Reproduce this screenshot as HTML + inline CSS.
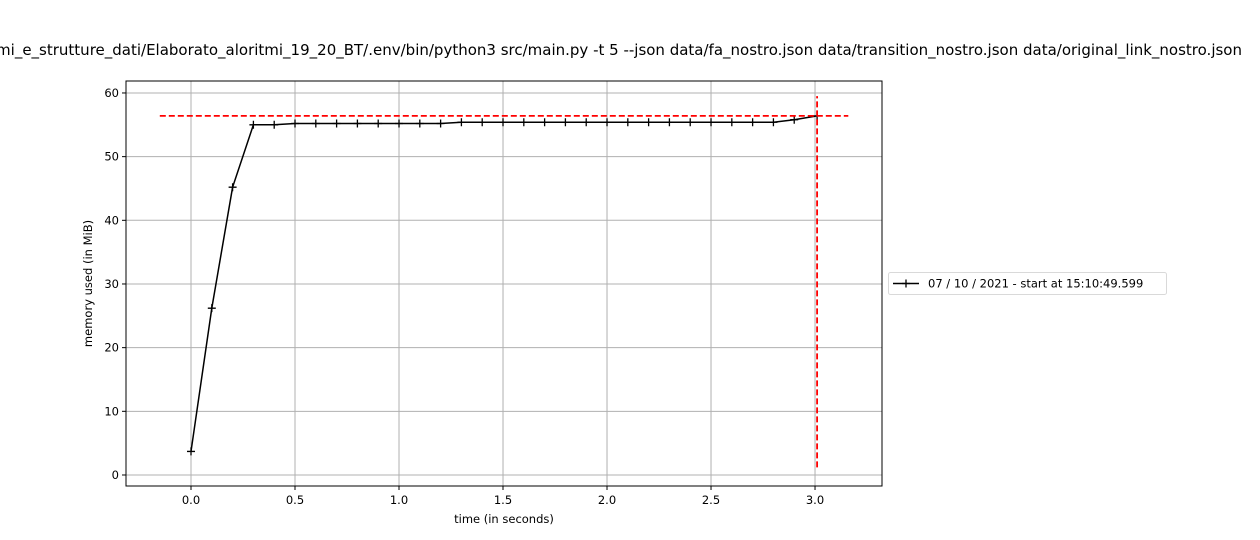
<!DOCTYPE html>
<html><head><meta charset="utf-8"><style>
html,body{margin:0;padding:0;background:#fff;}
svg{display:block;font-family:"DejaVu Sans","Liberation Sans",sans-serif;}
</style></head><body>
<svg id="chart" width="1260" height="540">
<text x="1242" y="55" text-anchor="end" font-size="15" fill="#000">/home/user/Documenti/algoritmi_e_strutture_dati/Elaborato_aloritmi_19_20_BT/.env/bin/python3 src/main.py -t 5 --json data/fa_nostro.json data/transition_nostro.json data/original_link_nostro.json</text>
<g id="grid"></g>
<g id="marks"></g>
<g id="axes"></g>
</svg>
<script>
const times = [0.0,0.1,0.2,0.3,0.4,0.5,0.6,0.7,0.8,0.9,1.0,1.1,1.2,1.3,1.4,1.5,1.6,1.7,1.8,1.9,2.0,2.1,2.2,2.3,2.4,2.5,2.6,2.7,2.8,2.9,3.01];
const memory = [3.7,26.2,45.2,55.0,55.0,55.2,55.2,55.2,55.2,55.2,55.2,55.2,55.2,55.4,55.4,55.4,55.4,55.4,55.4,55.4,55.4,55.4,55.4,55.4,55.4,55.4,55.4,55.4,55.4,55.8,56.4];
const xTicks = [0.0,0.5,1.0,1.5,2.0,2.5,3.0];
const xTickLabels = ["0.0","0.5","1.0","1.5","2.0","2.5","3.0"];
const yTicks = [0,10,20,30,40,50,60];
const maxMem = 56.4;
const maxMemRangeX = [-0.15, 3.16];
const endTime = 3.01;
const endTimeRangeY = [1.2, 59.5];
const legendLabel = "07 / 10 / 2021 - start at 15:10:49.599";

const L=126,R=882,T=81,B=486;
const xMin=-0.3125,xMax=3.322,yMin=-1.73,yMax=61.88;
const sx=v=>L+(v-xMin)/(xMax-xMin)*(R-L);
const sy=v=>B-(v-yMin)/(yMax-yMin)*(B-T);
const NS="http://www.w3.org/2000/svg";
function mk(tag,attrs,parent){const e=document.createElementNS(NS,tag);for(const k in attrs)e.setAttribute(k,attrs[k]);parent.appendChild(e);return e;}
const grid=document.getElementById('grid'),marks=document.getElementById('marks'),axes=document.getElementById('axes');

xTicks.forEach((t,i)=>{
  const g=mk('line',{x1:sx(t),x2:sx(t),y1:T,y2:B,stroke:'#b0b0b0','stroke-width':1},grid);
  
  
  mk('line',{x1:sx(t),x2:sx(t),y1:B,y2:B+4,stroke:'#000'},axes);
  const tx=mk('text',{x:sx(t),y:B+18,'text-anchor':'middle','font-size':11.5},axes);
  tx.textContent=xTickLabels[i];
  
  
});
yTicks.forEach(t=>{
  const g=mk('line',{x1:L,x2:R,y1:sy(t),y2:sy(t),stroke:'#b0b0b0','stroke-width':1},grid);
  
  
  mk('line',{x1:L-4,x2:L,y1:sy(t),y2:sy(t),stroke:'#000'},axes);
  const tx=mk('text',{x:L-7,y:sy(t)+4,'text-anchor':'end','font-size':11.5},axes);
  tx.textContent=String(t);
  
  
});
const fr=mk('rect',{x:L,y:T,width:R-L,height:B-T,fill:'none',stroke:'#000','stroke-width':1},axes);


const xl=mk('text',{x:(L+R)/2,y:523,'text-anchor':'middle','font-size':11.5},axes);
xl.textContent='time (in seconds)';


const yl=mk('text',{x:0,y:0,'text-anchor':'middle','font-size':11.5,transform:`translate(92,${(T+B)/2}) rotate(-90)`},axes);
yl.textContent='memory used (in MiB)';



const pl=mk('polyline',{points:times.map((t,i)=>sx(t)+','+sy(memory[i])).join(' '),fill:'none',stroke:'#000','stroke-width':1.5},marks);


times.forEach((t,i)=>{
  const x=sx(t),y=sy(memory[i]);
  const m=mk('path',{d:`M${x-4},${y}H${x+4}M${x},${y-4}V${y+4}`,stroke:'#000','stroke-width':1.3},marks);
  
  
});
const hl=mk('line',{x1:sx(maxMemRangeX[0]),x2:sx(maxMemRangeX[1]),y1:sy(maxMem),y2:sy(maxMem),stroke:'#ff0000','stroke-width':1.8,'stroke-dasharray':'6,3'},marks);


const vl=mk('line',{x1:sx(endTime),x2:sx(endTime),y1:sy(endTimeRangeY[0]),y2:sy(endTimeRangeY[1]),stroke:'#ff0000','stroke-width':1.8,'stroke-dasharray':'6,3'},marks);



const lg=mk('g',{},axes);


mk('rect',{x:888.5,y:272.5,width:278,height:22,rx:2,fill:'#fff',stroke:'#d9d9d9'},lg);
mk('line',{x1:893,x2:919,y1:283.5,y2:283.5,stroke:'#000','stroke-width':1.5},lg);
mk('path',{d:'M902,283.5H910M906,279.5V287.5',stroke:'#000','stroke-width':1.3},lg);
const lt=mk('text',{x:928,y:287.5,'font-size':11.5},lg);
lt.textContent=legendLabel;


</script>
</body></html>
